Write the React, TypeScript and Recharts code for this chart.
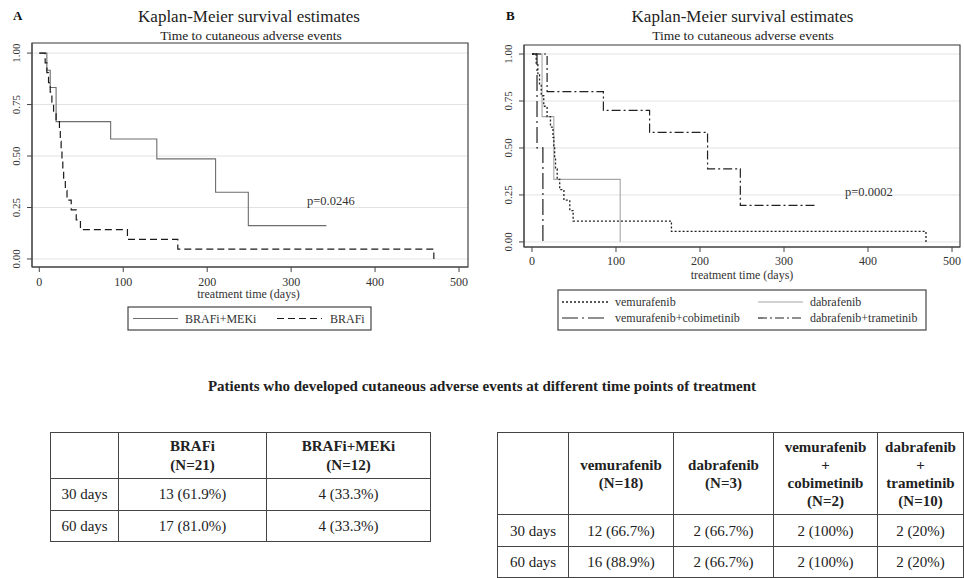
import { LineChart, Line, XAxis, YAxis, CartesianGrid, ReferenceArea } from "recharts";

// Panel A: time (days) and survival estimate at each step
const brafiMekiTime = [0, 9, 13, 20, 85, 140, 210, 249, 342];
const brafiMekiSurv = [1, 0.917, 0.833, 0.667, 0.583, 0.486, 0.324, 0.162, 0.162];

const brafiTime = [0, 7, 9, 11, 13, 15, 17, 20, 24, 25, 26, 27, 28, 29, 31, 33, 38, 44, 49, 105, 165, 470];
const brafiSurv = [1, 0.952, 0.905, 0.857, 0.81, 0.762, 0.714, 0.667, 0.619, 0.571, 0.524, 0.476, 0.429, 0.381, 0.333, 0.286, 0.238, 0.19, 0.143, 0.095, 0.048, 0];

// Panel B
const vemTime = [0, 5, 7, 9, 11, 14, 18, 22, 25, 26, 27, 28, 30, 33, 38, 45, 49, 166, 469];
const vemSurv = [1, 0.944, 0.889, 0.833, 0.778, 0.722, 0.667, 0.611, 0.556, 0.5, 0.444, 0.389, 0.333, 0.278, 0.222, 0.167, 0.111, 0.056, 0];

const dabTime = [0, 12, 26, 105];
const dabSurv = [1, 0.667, 0.333, 0];

const vemCobiTime = [0, 6, 13];
const vemCobiSurv = [1, 0.5, 0];

const dabTramTime = [0, 18, 85, 140, 209, 248, 338];
const dabTramSurv = [1, 0.8, 0.7, 0.583, 0.389, 0.194, 0.194];

const xTicks = [0, 100, 200, 300, 400, 500];
const yTicks = [0, 0.25, 0.5, 0.75, 1];

// Tables
const timePoints = ["30 days", "60 days"];
const tableAHeaders = [["BRAFi", "(N=21)"], ["BRAFi+MEKi", "(N=12)"]];
const tableAValues = [["13 (61.9%)", "4 (33.3%)"], ["17 (81.0%)", "4 (33.3%)"]];
const tableBHeaders = [
  ["vemurafenib", "(N=18)"],
  ["dabrafenib", "(N=3)"],
  ["vemurafenib", "+", "cobimetinib", "(N=2)"],
  ["dabrafenib", "+", "trametinib", "(N=10)"],
];
const tableBValues = [
  ["12 (66.7%)", "2 (66.7%)", "2 (100%)", "2 (20%)"],
  ["16 (88.9%)", "2 (66.7%)", "2 (100%)", "2 (20%)"],
];

const serif = '"Liberation Serif", "Times New Roman", serif';
const frame = "#444";

const toPoints = (t: number[], s: number[]) => t.map((v, i) => ({ t: v, s: s[i] }));

const makeXTick = (baseline: number) => (props: any) => (
  <text x={props.x} y={baseline} textAnchor="middle" fontSize={12} fontFamily={serif} fill="#333">
    {props.payload.value}
  </text>
);

const makeYTick = (cx: number) => (props: any) => (
  <text
    transform={`translate(${cx},${props.y}) rotate(-90)`}
    textAnchor="middle"
    fontSize={11}
    fontFamily={serif}
    fill="#333"
  >
    {props.payload.value.toFixed(2)}
  </text>
);

const cell = { border: "1px solid #444", padding: 0, textAlign: "center" as const };

export default function App() {
  const domA: [number, number] = [-8.7, 510.7];
  const domAy: [number, number] = [-0.039, 1.049];
  const domB: [number, number] = [-9.5, 509.5];
  const domBy: [number, number] = [-0.027, 1.048];

  return (
    <div style={{ position: "absolute", left: 0, top: 0, width: 964, height: 578, background: "#fff", fontFamily: serif, color: "#222", overflow: "hidden" }}>
      <div style={{ position: "absolute", left: 0, top: 0 }}>
        <LineChart width={480} height={340} margin={{ top: 43, right: 12, left: 0, bottom: 0 }}>
          <CartesianGrid vertical={false} stroke="#e2e2e2" />
          <XAxis type="number" dataKey="t" domain={domA} allowDataOverflow ticks={xTicks} height={73} tickSize={5} stroke={frame} tick={makeXTick(285.5)} />
          <YAxis type="number" domain={domAy} allowDataOverflow ticks={yTicks} width={32} tickSize={5} stroke={frame} tick={makeYTick(19.7)} />
          <ReferenceArea x1={domA[0]} x2={domA[1]} y1={domAy[0]} y2={domAy[1]} fill="none" stroke={frame} strokeWidth={1.2} ifOverflow="visible" />
          <Line data={toPoints(brafiMekiTime, brafiMekiSurv)} dataKey="s" type="stepAfter" stroke="#6e6e6e" strokeWidth={1.1} dot={false} isAnimationActive={false} />
          <Line data={toPoints(brafiTime, brafiSurv)} dataKey="s" type="stepAfter" stroke="#1a1a1a" strokeWidth={1.2} strokeDasharray="7 4" dot={false} isAnimationActive={false} />
        </LineChart>
      </div>
      <div style={{ position: "absolute", left: 480, top: 0 }}>
        <LineChart width={484} height={340} margin={{ top: 45, right: 4, left: 0, bottom: 0 }}>
          <CartesianGrid vertical={false} stroke="#e2e2e2" />
          <XAxis type="number" dataKey="t" domain={domB} allowDataOverflow ticks={xTicks} height={93} tickSize={5} stroke={frame} tick={makeXTick(265)} />
          <YAxis type="number" domain={domBy} allowDataOverflow ticks={yTicks} width={44} tickSize={5} stroke={frame} tick={makeYTick(32)} />
          <ReferenceArea x1={domB[0]} x2={domB[1]} y1={domBy[0]} y2={domBy[1]} fill="none" stroke={frame} strokeWidth={1.2} ifOverflow="visible" />
          <Line data={toPoints(dabTime, dabSurv)} dataKey="s" type="stepAfter" stroke="#a6a6a6" strokeWidth={1.1} dot={false} isAnimationActive={false} />
          <Line data={toPoints(vemTime, vemSurv)} dataKey="s" type="stepAfter" stroke="#222" strokeWidth={1.3} strokeDasharray="2 2" dot={false} isAnimationActive={false} />
          <Line data={toPoints(vemCobiTime, vemCobiSurv)} dataKey="s" type="stepAfter" stroke="#222" strokeWidth={1.2} strokeDasharray="16 4 2 4" dot={false} isAnimationActive={false} />
          <Line data={toPoints(dabTramTime, dabTramSurv)} dataKey="s" type="stepAfter" stroke="#222" strokeWidth={1.2} strokeDasharray="9 3 2 3" dot={false} isAnimationActive={false} />
        </LineChart>
      </div>

      <svg width={964} height={340} style={{ position: "absolute", left: 0, top: 0, pointerEvents: "none" }} fontFamily={serif}>
        <text x={13} y={20} fontSize={13} fontWeight="bold" fill="#111">A</text>
        <text x={249} y={21.5} fontSize={17} textAnchor="middle" fill="#222">Kaplan-Meier survival estimates</text>
        <text x={251} y={39.5} fontSize={13.5} textAnchor="middle" fill="#222">Time to cutaneous adverse events</text>
        <text x={248.5} y={298} fontSize={12} textAnchor="middle" fill="#333">treatment time (days)</text>
        <text x={307} y={205} fontSize={12.5} fill="#333">p=0.0246</text>
        <rect x={128} y={307} width={243} height={23} fill="none" stroke={frame} strokeWidth={1.2} />
        <line x1={133} x2={178} y1={318.5} y2={318.5} stroke="#6e6e6e" strokeWidth={1.1} />
        <text x={185} y={322.5} fontSize={12} fill="#333">BRAFi+MEKi</text>
        <line x1={277} x2={322} y1={318.5} y2={318.5} stroke="#1a1a1a" strokeWidth={1.2} strokeDasharray="7 4" />
        <text x={330} y={322.5} fontSize={12} fill="#333">BRAFi</text>

        <text x={506} y={20} fontSize={13} fontWeight="bold" fill="#111">B</text>
        <text x={742.5} y={21.5} fontSize={17} textAnchor="middle" fill="#222">Kaplan-Meier survival estimates</text>
        <text x={743} y={39.5} fontSize={13.5} textAnchor="middle" fill="#222">Time to cutaneous adverse events</text>
        <text x={742} y={279} fontSize={12} textAnchor="middle" fill="#333">treatment time (days)</text>
        <text x={845} y={196} fontSize={12.5} fill="#333">p=0.0002</text>
        <rect x={558} y={290} width={368} height={40} fill="none" stroke={frame} strokeWidth={1.2} />
        <line x1={562} x2={608} y1={302} y2={302} stroke="#222" strokeWidth={1.3} strokeDasharray="2 2" />
        <text x={615} y={306} fontSize={12} fill="#333">vemurafenib</text>
        <line x1={758} x2={803} y1={302} y2={302} stroke="#a6a6a6" strokeWidth={1.1} />
        <text x={810} y={306} fontSize={12} fill="#333">dabrafenib</text>
        <line x1={562} x2={608} y1={318} y2={318} stroke="#222" strokeWidth={1.2} strokeDasharray="16 4 2 4" />
        <text x={615} y={322} fontSize={12} fill="#333">vemurafenib+cobimetinib</text>
        <line x1={758} x2={803} y1={318} y2={318} stroke="#222" strokeWidth={1.2} strokeDasharray="9 3 2 3" />
        <text x={810} y={322} fontSize={12} fill="#333">dabrafenib+trametinib</text>
      </svg>

      <div style={{ position: "absolute", left: 0, width: 964, top: 377, textAlign: "center", fontWeight: "bold", fontSize: 15, lineHeight: "18px" }}>
        Patients who developed cutaneous adverse events at different time points of treatment
      </div>

      <table style={{ position: "absolute", left: 50, top: 432, borderCollapse: "collapse", fontSize: 15, lineHeight: "18.5px", tableLayout: "fixed" }}>
        <colgroup>
          <col style={{ width: 68 }} />
          <col style={{ width: 148 }} />
          <col style={{ width: 164 }} />
        </colgroup>
        <tbody>
          <tr style={{ height: 46 }}>
            <td style={cell}></td>
            {tableAHeaders.map((h, i) => (
              <td key={i} style={{ ...cell, fontWeight: "bold" }}>
                {h.map((l, j) => <div key={j}>{l}</div>)}
              </td>
            ))}
          </tr>
          {timePoints.map((tp, r) => (
            <tr key={tp} style={{ height: r === 0 ? 32 : 31 }}>
              <td style={cell}>{tp}</td>
              {tableAValues[r].map((v, i) => <td key={i} style={cell}>{v}</td>)}
            </tr>
          ))}
        </tbody>
      </table>

      <table style={{ position: "absolute", left: 497, top: 432, borderCollapse: "collapse", fontSize: 15, lineHeight: "18px", tableLayout: "fixed" }}>
        <colgroup>
          <col style={{ width: 71 }} />
          <col style={{ width: 105 }} />
          <col style={{ width: 100 }} />
          <col style={{ width: 104 }} />
          <col style={{ width: 86 }} />
        </colgroup>
        <tbody>
          <tr style={{ height: 82 }}>
            <td style={cell}></td>
            {tableBHeaders.map((h, i) => (
              <td key={i} style={{ ...cell, fontWeight: "bold" }}>
                {h.map((l, j) => <div key={j}>{l}</div>)}
              </td>
            ))}
          </tr>
          {timePoints.map((tp, r) => (
            <tr key={tp} style={{ height: r === 0 ? 32 : 31 }}>
              <td style={cell}>{tp}</td>
              {tableBValues[r].map((v, i) => <td key={i} style={cell}>{v}</td>)}
            </tr>
          ))}
        </tbody>
      </table>
    </div>
  );
}
